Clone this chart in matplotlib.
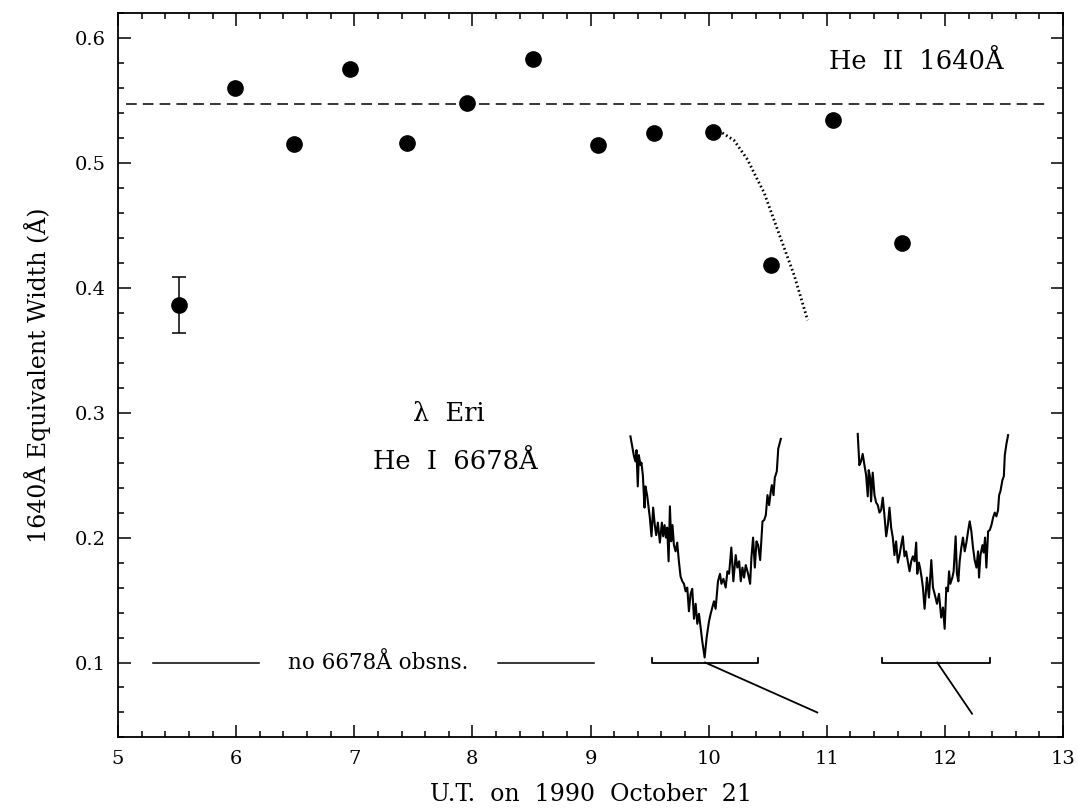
import numpy as np
import matplotlib
matplotlib.use('Agg')
import matplotlib.pyplot as plt
from matplotlib.ticker import MultipleLocator

# He II 1640 equivalent widths, UT hours on 1990 Oct 21
ut_hours = [5.52, 5.99, 6.49, 6.96, 7.45, 7.95, 8.51, 9.06, 9.54, 10.04, 10.53, 11.05, 11.64]
ew_1640 = [0.386, 0.560, 0.515, 0.575, 0.516, 0.548, 0.583, 0.514, 0.524, 0.525, 0.418, 0.534, 0.436]
err_lo = [0.022] + [0.0] * 12
err_hi = [0.023] + [0.0] * 12
ew_mean = 0.547
mean_span = (5.07, 12.875)

# dotted trend after 10 UT
trend_x = [10.116, 10.215, 10.329, 10.40, 10.470, 10.612, 10.724, 10.838]
trend_y = [0.524, 0.518, 0.5026, 0.489, 0.476, 0.439, 0.410, 0.374]

# He I 6678 profiles, plotted in the same axes units
spec1_x = [9.338, 9.366, 9.380, 9.389, 9.400, 9.409, 9.423, 9.431, 9.443, 9.457,
           9.465, 9.479, 9.502, 9.516, 9.530, 9.544, 9.556, 9.570, 9.587, 9.604,
           9.615, 9.627, 9.638, 9.649, 9.661, 9.672, 9.683, 9.694, 9.706, 9.720,
           9.734, 9.748, 9.762, 9.777, 9.791, 9.805, 9.819, 9.833, 9.847, 9.861,
           9.876, 9.890, 9.904, 9.918, 9.932, 9.946, 9.966, 9.983, 10.003, 10.017,
           10.031, 10.045, 10.059, 10.079, 10.096, 10.108, 10.125, 10.144, 10.159, 10.173,
           10.192, 10.209, 10.229, 10.243, 10.258, 10.272, 10.286, 10.300, 10.314, 10.334,
           10.351, 10.362, 10.376, 10.391, 10.405, 10.419, 10.436, 10.456, 10.470, 10.484,
           10.498, 10.512, 10.526, 10.535, 10.549, 10.560, 10.577, 10.589, 10.600, 10.611]
spec1_y = [0.281, 0.266, 0.261, 0.270, 0.241, 0.266, 0.258, 0.260, 0.250, 0.224,
           0.241, 0.234, 0.216, 0.201, 0.224, 0.210, 0.202, 0.212, 0.196, 0.212,
           0.201, 0.210, 0.200, 0.208, 0.181, 0.225, 0.197, 0.210, 0.194, 0.189,
           0.196, 0.181, 0.169, 0.165, 0.163, 0.157, 0.160, 0.141, 0.155, 0.159,
           0.135, 0.147, 0.131, 0.139, 0.128, 0.117, 0.104, 0.120, 0.133, 0.139,
           0.144, 0.149, 0.143, 0.165, 0.171, 0.163, 0.167, 0.160, 0.173, 0.171,
           0.192, 0.165, 0.186, 0.176, 0.181, 0.165, 0.176, 0.168, 0.178, 0.171,
           0.163, 0.184, 0.200, 0.176, 0.197, 0.194, 0.182, 0.213, 0.214, 0.218,
           0.234, 0.226, 0.237, 0.242, 0.234, 0.248, 0.253, 0.271, 0.275, 0.279]

spec2_x = [11.262, 11.276, 11.290, 11.304, 11.319, 11.333, 11.347, 11.355, 11.367, 11.375,
           11.389, 11.404, 11.418, 11.432, 11.446, 11.460, 11.474, 11.488, 11.503, 11.517,
           11.531, 11.545, 11.559, 11.573, 11.587, 11.602, 11.616, 11.630, 11.644, 11.658,
           11.672, 11.686, 11.701, 11.715, 11.729, 11.743, 11.757, 11.766, 11.780, 11.791,
           11.803, 11.814, 11.828, 11.848, 11.865, 11.885, 11.899, 11.913, 11.933, 11.950,
           11.969, 11.984, 11.998, 12.012, 12.026, 12.035, 12.046, 12.063, 12.074, 12.091,
           12.102, 12.114, 12.125, 12.139, 12.153, 12.168, 12.182, 12.196, 12.210, 12.224,
           12.238, 12.252, 12.267, 12.281, 12.289, 12.301, 12.318, 12.329, 12.340, 12.351,
           12.366, 12.380, 12.394, 12.408, 12.422, 12.436, 12.450, 12.459, 12.470, 12.487,
           12.499, 12.507, 12.521, 12.535]
spec2_y = [0.283, 0.258, 0.261, 0.267, 0.258, 0.250, 0.233, 0.254, 0.248, 0.229,
           0.252, 0.234, 0.228, 0.226, 0.220, 0.222, 0.232, 0.218, 0.201, 0.210,
           0.224, 0.208, 0.200, 0.186, 0.197, 0.180, 0.186, 0.194, 0.201, 0.185,
           0.189, 0.181, 0.173, 0.181, 0.185, 0.181, 0.196, 0.171, 0.180, 0.175,
           0.168, 0.160, 0.143, 0.168, 0.152, 0.182, 0.160, 0.155, 0.147, 0.155,
           0.136, 0.144, 0.127, 0.160, 0.157, 0.173, 0.163, 0.168, 0.173, 0.201,
           0.171, 0.165, 0.181, 0.192, 0.200, 0.189, 0.196, 0.205, 0.213, 0.205,
           0.192, 0.182, 0.176, 0.189, 0.168, 0.186, 0.194, 0.188, 0.200, 0.176,
           0.205, 0.206, 0.210, 0.216, 0.220, 0.217, 0.222, 0.234, 0.237, 0.246,
           0.249, 0.266, 0.275, 0.282]

# exposure brackets at EW = 0.1 and their leader lines
bracket_x = [(9.52, 10.42), (11.47, 12.38)]
leader_from = [(9.97, 0.100), (11.935, 0.100)]
leader_to = [(10.92, 0.060), (12.23, 0.059)]
gap_lines = [(5.30, 6.19), (8.22, 9.03)]
gap_text_x = 7.20
base_level = 0.1

SERIF = 'DejaVu Serif'
plt.rcParams['font.family'] = SERIF

fig = plt.figure(figsize=(10.78, 8.08), dpi=100)
ax = fig.add_axes([0.1095, 0.0873, 0.8766, 0.8967])

ax.errorbar(ut_hours, ew_1640, yerr=[err_lo, err_hi], fmt='o', color='black',
            ms=11, elinewidth=1.1, capsize=5, capthick=1.1, zorder=3)
ax.plot(mean_span, [ew_mean, ew_mean], color='black', lw=1.1, dashes=(7, 4))
ax.plot(trend_x, trend_y, color='black', lw=2.0, linestyle=(0, (0.6, 1.0)))

ax.plot(spec1_x, spec1_y, color='black', lw=1.5)
ax.plot(spec2_x, spec2_y, color='black', lw=1.5)

for (x0, x1), (fx, fy), (tx, ty) in zip(bracket_x, leader_from, leader_to):
    ax.plot([x0, x0, x1, x1], [base_level + 0.004, base_level, base_level, base_level + 0.004],
            color='black', lw=1.3)
    ax.plot([fx, tx], [fy, ty], color='black', lw=1.3)

for x0, x1 in gap_lines:
    ax.plot([x0, x1], [base_level, base_level], color='black', lw=1.1)
ax.text(gap_text_x, base_level, 'no 6678Å obsns.', ha='center', va='center', fontsize=15.5)

ax.text(11.76, 0.581, 'He  II  1640Å', ha='center', va='center', fontsize=18.5)
ax.text(7.80, 0.299, 'λ  Eri', ha='center', va='center', fontsize=18.5)
ax.text(7.86, 0.261, 'He  I  6678Å', ha='center', va='center', fontsize=18.5)

ax.set_xlim(5, 13)
ax.set_ylim(0.04, 0.62)
ax.xaxis.set_major_locator(MultipleLocator(1))
ax.xaxis.set_minor_locator(MultipleLocator(0.2))
ax.yaxis.set_major_locator(MultipleLocator(0.1))
ax.yaxis.set_minor_locator(MultipleLocator(0.02))
ax.tick_params(which='both', direction='in', top=True, right=True, width=1.1)
ax.tick_params(which='major', length=9, labelsize=14, pad=9)
ax.tick_params(which='minor', length=4.5)
for spine in ax.spines.values():
    spine.set_linewidth(1.3)

ax.set_xlabel('U.T.  on  1990  October  21', fontsize=17, labelpad=11)
ax.set_ylabel('1640Å Equivalent Width (Å)', fontsize=17, labelpad=17)

fig.savefig('out.png', dpi=100, facecolor='white')
